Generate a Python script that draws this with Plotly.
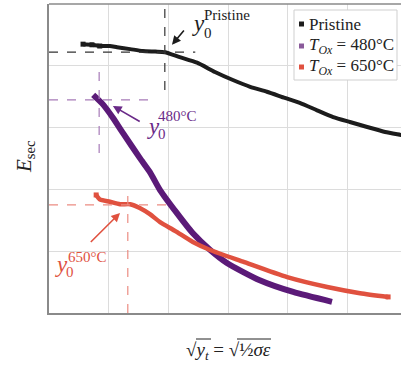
import plotly.graph_objects as go

# ---- data (x = sqrt(y_t) units, y = E_sec units) ----
pristine_x = [0.57, 0.72, 0.85, 1.02, 1.14, 1.36, 1.57, 1.78, 1.94, 2.19, 2.48, 2.78, 3.08, 3.37, 3.65, 3.95, 4.20, 4.49, 4.76, 5.04, 5.33, 5.63, 5.90, 6.00]
pristine_y = [4.35, 4.34, 4.32, 4.32, 4.30, 4.27, 4.24, 4.23, 4.22, 4.14, 4.05, 3.90, 3.77, 3.66, 3.58, 3.48, 3.40, 3.28, 3.17, 3.09, 3.01, 2.93, 2.88, 2.86]

t480_x = [0.74, 0.90, 1.07, 1.24, 1.52, 1.69, 1.86, 2.14, 2.41, 2.70, 2.98, 3.53, 4.09, 4.74]
t480_y = [3.53, 3.38, 3.16, 2.91, 2.51, 2.28, 1.99, 1.62, 1.29, 1.02, 0.81, 0.53, 0.34, 0.18]

t650_x = [0.79, 0.85, 1.02, 1.19, 1.36, 1.52, 1.69, 1.86, 2.11, 2.41, 2.70, 3.25, 3.99, 4.66, 5.21, 5.68]
t650_y = [1.91, 1.84, 1.80, 1.76, 1.76, 1.70, 1.60, 1.47, 1.33, 1.15, 1.02, 0.83, 0.58, 0.42, 0.32, 0.26]

series_names = ["Pristine", "<i>T<sub>Ox</sub></i> = 480°C", "<i>T<sub>Ox</sub></i> = 650°C"]
# y0 points (x, y) and extents of the dashed guides
y0_x = [1.94, 0.84, 1.32]
y0_y = [4.22, 3.45, 1.75]
hline_end = [2.45, 1.74, 1.98]
vline_top = [5.00, 3.98, 1.99]
vline_bot = [3.61, 2.59, 0.00]
y0_labels = ["Pristine", "480°C", "650°C"]

colors = ["#1c1c1c", "#5b1a78", "#e0513f"]
guide_colors = ["#333333", "#a77bb8", "#ec8c82"]

W, H = 401, 368
L, R, T, B = 49, 0, 4, 55
XMAX = (W - L - R) / 59.7
YMAX = 5.0
PH = H - B - T
PW = W - L - R


def px2paper(px, py):
    return (px - L) / PW, (H - B - py) / PH


fig = go.Figure()
series = [(pristine_x, pristine_y, 4), (t480_x, t480_y, 6), (t650_x, t650_y, 4.5)]
for (xs, ys, w), c, n in zip(series, colors, series_names):
    fig.add_trace(go.Scatter(x=xs, y=ys, mode="lines", line=dict(color=c, width=w, shape="spline", smoothing=0.6),
                             name=n, showlegend=False))
fig.add_trace(go.Scatter(x=[t650_x[0], t650_x[-1]], y=[t650_y[0], t650_y[-1]], mode="markers",
                         marker=dict(symbol="square", size=5, color=colors[2]), showlegend=False))
fig.add_trace(go.Scatter(x=pristine_x[:3], y=pristine_y[:3], mode="markers",
                         marker=dict(symbol="square", size=5, color=colors[0]), showlegend=False))

shapes = []
for i in range(3):
    shapes.append(dict(type="line", xref="x", yref="y", x0=0, x1=hline_end[i], y0=y0_y[i], y1=y0_y[i],
                       line=dict(color=guide_colors[i], width=1.2, dash="dash")))
    shapes.append(dict(type="line", xref="x", yref="y", x0=y0_x[i], x1=y0_x[i], y0=vline_bot[i], y1=vline_top[i],
                       line=dict(color=guide_colors[i], width=1.2, dash="dash")))
shapes.append(dict(type="line", xref="paper", yref="paper", x0=0, x1=1, y0=1, y1=1,
                   line=dict(color="#8a8a8a", width=1.5)))
bx0, by0 = px2paper(294, 80)
bx1, by1 = px2paper(397, 10)
shapes.append(dict(type="rect", xref="paper", yref="paper", x0=bx0, x1=bx1, y0=by0, y1=by1,
                   line=dict(color="#cfcfcf", width=1), fillcolor="white"))
leg_rows_py = [24, 46, 67]
for i in range(3):
    sx0, sy0 = px2paper(299, leg_rows_py[i] + 2.5)
    sx1, sy1 = px2paper(304, leg_rows_py[i] - 2.5)
    shapes.append(dict(type="rect", xref="paper", yref="paper", x0=sx0, x1=sx1, y0=sy0, y1=sy1,
                       line=dict(width=0), fillcolor=colors[i] if i != 1 else "#8a5a9a"))
# overlines of the square roots in the x title
for (a, b) in [(196, 211), (237, 271)]:
    ox0, oy = px2paper(a, 339)
    ox1, _ = px2paper(b, 339)
    shapes.append(dict(type="line", xref="paper", yref="paper", x0=ox0, x1=ox1, y0=oy, y1=oy,
                       line=dict(color="#222", width=1)))

SERIF = "Liberation Serif"
ann = []
for i in range(3):
    tx, ty = px2paper(307, leg_rows_py[i])
    ann.append(dict(xref="paper", yref="paper", x=tx, y=ty, xanchor="left", yanchor="middle",
                    text=series_names[i], showarrow=False, font=dict(family=SERIF, size=17, color="#222")))

lab_y = [(2.36, 4.69), (1.60, 3.01), (0.06, 0.79)]
lab_0 = [(2.56, 4.53), (1.79, 2.90), (0.25, 0.67)]
lab_s = [(2.56, 4.83), (1.80, 3.19), (0.28, 0.91)]
lab_col = ["#1c1c1c", "#6a2a88", "#e0513f"]
for i in range(3):
    ann.append(dict(x=lab_y[i][0], y=lab_y[i][1], xanchor="left", yanchor="middle", showarrow=False,
                    text="<i>y</i>", font=dict(family=SERIF, size=23, color=lab_col[i])))
    ann.append(dict(x=lab_0[i][0], y=lab_0[i][1], xanchor="left", yanchor="middle", showarrow=False,
                    text="0", font=dict(family=SERIF, size=15, color=lab_col[i])))
    ann.append(dict(x=lab_s[i][0], y=lab_s[i][1], xanchor="left", yanchor="middle", showarrow=False,
                    text=y0_labels[i], font=dict(family=SERIF, size=15, color=lab_col[i])))

arrows = [((2.06, 4.34), (2.31, 4.63)), ((1.07, 3.35), (1.57, 3.07)), ((1.19, 1.62), (0.65, 1.10))]
for (h, t), c in zip(arrows, lab_col):
    ann.append(dict(x=h[0], y=h[1], ax=t[0], ay=t[1], axref="x", ayref="y", xref="x", yref="y",
                    showarrow=True, arrowhead=2, arrowsize=1.1, arrowwidth=1.6, arrowcolor=c, text=" "))

ex, ey = px2paper(25, 157)
ann.append(dict(xref="paper", yref="paper", x=ex, y=ey, xanchor="center", yanchor="middle",
                text="<i>E</i><sub>sec</sub>", textangle=-90, showarrow=False,
                font=dict(family=SERIF, size=21, color="#222")))
lx, ly = px2paper(228, 351)
ann.append(dict(xref="paper", yref="paper", x=lx, y=ly, xanchor="center", yanchor="middle",
                text="√<i>y<sub>t</sub></i> = √½<i>σε</i>",
                showarrow=False, font=dict(family=SERIF, size=19, color="#222")))

fig.update_layout(
    width=W, height=H, margin=dict(l=L, r=R, t=T, b=B),
    paper_bgcolor="white", plot_bgcolor="white",
    shapes=shapes, annotations=ann, showlegend=False,
    xaxis=dict(range=[0, XMAX], dtick=1, tick0=0, showticklabels=False, ticks="",
               showgrid=True, gridcolor="#dcdcdc", gridwidth=1, zeroline=False,
               showline=True, linecolor="#8a8a8a", linewidth=1.5),
    yaxis=dict(range=[0, YMAX], dtick=1, tick0=0, showticklabels=False, ticks="",
               showgrid=True, gridcolor="#dcdcdc", gridwidth=1, zeroline=False,
               showline=True, linecolor="#8a8a8a", linewidth=1.5),
)
fig.write_html("out.html")
